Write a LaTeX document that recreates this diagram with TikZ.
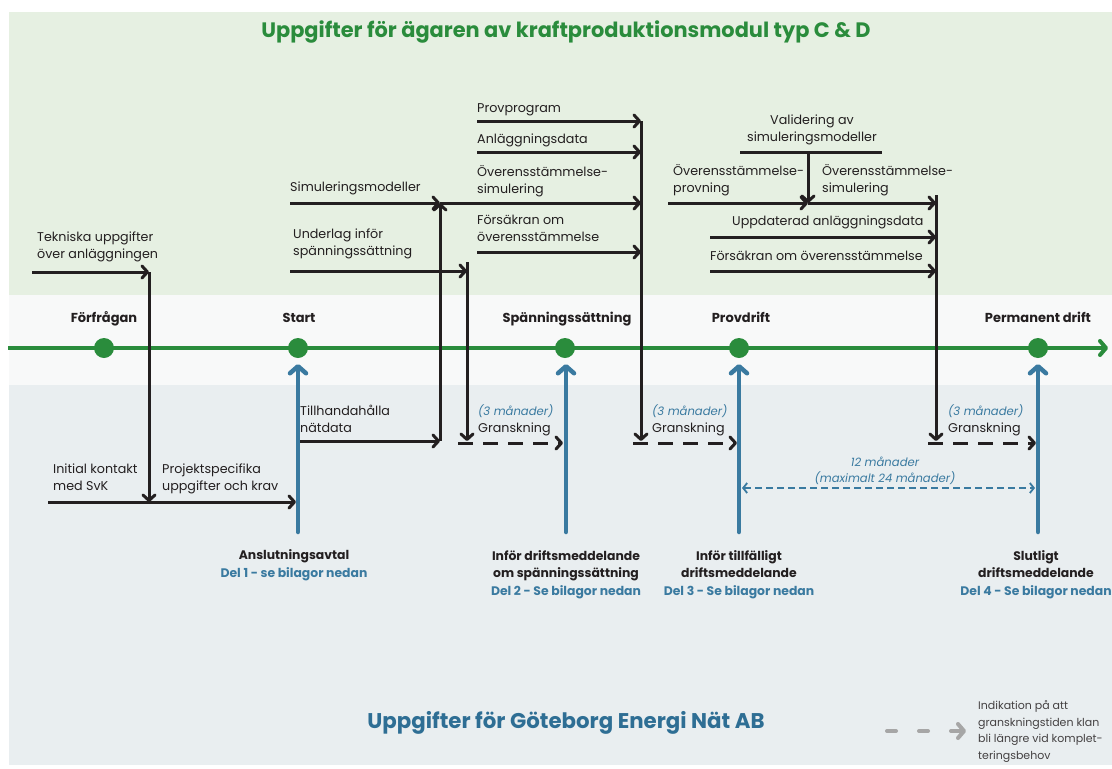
\documentclass[tikz,border=0pt]{standalone}
\usepackage{fontspec}
\setmainfont{Poppins}
\usetikzlibrary{arrows.meta}
\definecolor{topbg}{HTML}{E6F0E2}
\definecolor{midbg}{HTML}{F8F9F9}
\definecolor{botbg}{HTML}{E9EEF0}
\definecolor{ink}{HTML}{231F20}
\definecolor{grn}{HTML}{2A8C3C}
\definecolor{blu}{HTML}{3A7AA0}
\definecolor{dblu}{HTML}{2E6E94}
\definecolor{gry}{HTML}{A6A6A6}
\begin{document}
\begin{tikzpicture}[x=1pt,y=-1pt,
  chev/.tip={Straight Barb[length=5.5pt,width=12pt,line cap=round,line join=round]},
  bchev/.tip={Straight Barb[length=7pt,width=16pt,line cap=round,line join=round]},
  blk/.style={draw=ink,line width=3pt,-chev},
  blkplain/.style={draw=ink,line width=3pt},
  dsh/.style={draw=ink,line width=3pt,dash pattern=on 15pt off 10pt,-chev},
  bluarr/.style={draw=blu,line width=4.5pt,line cap=round,-bchev},
  lbl/.style={font=\fontsize{12.7}{17}\selectfont,text=ink,inner sep=0pt,anchor=base west,align=left},
  ms/.style={font=\bfseries\fontsize{13}{16}\selectfont,text=ink,inner sep=0pt,anchor=base},
  mo/.style={font=\itshape\fontsize{11.6}{16}\selectfont,text=blu,inner sep=0pt,anchor=base west},
  dl/.style={font=\bfseries\fontsize{12.4}{17.5}\selectfont,text=ink,inner sep=0pt,anchor=base,align=center},
  dot/.style={circle,fill=grn,minimum size=20pt,inner sep=0pt}
]
\useasboundingbox (0,0) rectangle (1112,769);
\fill[white] (0,0) rectangle (1112,769);
\fill[topbg] (9,12) rectangle (1112,295);
\fill[midbg] (9,295) rectangle (1112,385);
\fill[botbg] (9,385) rectangle (1112,765);

% titles
\node[font=\bfseries\fontsize{20.9}{24}\selectfont,text=grn,anchor=base,inner sep=0pt] (ttop) at (566,37) {Uppgifter för ägaren av kraftproduktionsmodul typ C \& D};
\node[font=\bfseries\fontsize{21.3}{24}\selectfont,text=dblu,anchor=base,inner sep=0pt] (tbot) at (566,728) {Uppgifter för Göteborg Energi Nät AB};

% timeline
\coordinate (tl0) at (8,348);
\coordinate (tl1) at (1108,348);
\draw[draw=grn,line width=4pt,-{Straight Barb[length=6pt,width=14pt,line cap=round,line join=round]}] (tl0) -- (tl1);
\node[dot] (m1) at (104,348) {};
\node[dot] (m2) at (298,348) {};
\node[dot] (m3) at (565,348) {};
\node[dot] (m4) at (739,348) {};
\node[dot] (m5) at (1038,348) {};
\node[ms] (n1) at (104,322) {Förfrågan};
\node[ms] (n2) at (299,322) {Start};
\node[ms] (n3) at (567,322) {Spänningssättning};
\node[ms] (n4) at (741,322) {Provdrift};
\node[ms] (n5) at (1038,322) {Permanent drift};

% blue upward arrows
\foreach \i/\x in {1/298,2/566,3/739,4/1038}{
  \coordinate (bs\i) at (\x,532);
  \coordinate (be\i) at (\x,364);
}
\draw[bluarr] (bs1) -- (be1);
\draw[bluarr] (bs2) -- (be2);
\draw[bluarr] (bs3) -- (be3);
\draw[bluarr] (bs4) -- (be4);

% bottom milestone labels (base = last line)
\node[dl] (d1) at (294,577) {Anslutningsavtal\\\textcolor{blu}{Del 1 - se bilagor nedan}};
\node[dl] (d2) at (566,595) {Inför driftsmeddelande\\om spänningssättning\\\textcolor{blu}{Del 2 - Se bilagor nedan}};
\node[dl] (d3) at (739,595) {Inför tillfälligt\\driftsmeddelande\\\textcolor{blu}{Del 3 - Se bilagor nedan}};
\node[dl] (d4) at (1036,595) {Slutligt\\driftsmeddelande\\\textcolor{blu}{Del 4 - Se bilagor nedan}};

% ---- group A (Förfrågan)
\coordinate (a1) at (32,272);
\coordinate (a2) at (149,272);
\coordinate (a3) at (149,502);
\coordinate (a4) at (48,502);
\coordinate (a5) at (296,502);
\draw[blk] (a1) -- (a2);
\draw[blk] (a2) -- (a3);
\draw[blk] (a4) -- (a5);
\node[lbl] (la1) at (37,258) {Tekniska uppgifter\\över anläggningen};
\node[lbl] (la2) at (53,490) {Initial kontakt\\med SvK};
\node[lbl] (la3) at (162,490) {Projektspecifika\\uppgifter och krav};

% ---- group B (Start -> Spänningssättning)
\coordinate (s0) at (290,203);
\coordinate (s1) at (440,203);
\coordinate (s2) at (641,203);
\coordinate (t0) at (300,441);
\coordinate (t1) at (440,441);
\draw[blk] (s0) -- (s1);
\draw[blk] (s1) -- (s2);
\draw[blk] (t0) -- (t1);
\draw[blk] (t1) -- (s1);
\node[lbl] (lb1) at (290,191) {Simuleringsmodeller};
\node[lbl] (lb2) at (300,432) {Tillhandahålla\\nätdata};

\coordinate (u0) at (290,271);
\coordinate (u1) at (467,271);
\coordinate (u2) at (467,262);
\coordinate (u3) at (467,441);
\draw[blk] (u0) -- (u1);
\draw[blk] (u2) -- (u3);
\node[lbl] (lb3) at (293,255) {Underlag inför\\spänningssättning};
\coordinate (g1a) at (458,443);
\coordinate (g1b) at (563,443);
\draw[dsh] (g1a) -- (g1b);
\node[mo] (mo1) at (478,415) {(3 månader)};
\node[lbl] (gr1) at (478,432) {Granskning};

% right column at 641
\coordinate (r0) at (641,121);
\coordinate (r1) at (641,441);
\draw[blk] (r0) -- (r1);
\coordinate (p0) at (477,121);
\coordinate (q0) at (477,152);
\coordinate (q1) at (641,152);
\coordinate (f0) at (477,252);
\coordinate (f1) at (641,252);
\draw[blk] (p0) -- (r0);
\draw[blk] (q0) -- (q1);
\draw[blk] (f0) -- (f1);
\node[lbl] (lc1) at (477,112) {Provprogram};
\node[lbl] (lc2) at (477,143) {Anläggningsdata};
\node[lbl] (lc3) at (477,193) {Överensstämmelse-\\simulering};
\node[lbl] (lc4) at (477,241) {Försäkran om\\överensstämmelse};
\coordinate (g2a) at (633,443);
\coordinate (g2b) at (737,443);
\draw[dsh] (g2a) -- (g2b);
\node[mo] (mo2) at (652,415) {(3 månader)};
\node[lbl] (gr2) at (652,432) {Granskning};

% ---- group C (Provdrift)
\coordinate (c0) at (936,195);
\coordinate (c1) at (936,441);
\draw[blk] (c0) -- (c1);
\coordinate (o0) at (668,203);
\coordinate (o1) at (808,203);
\coordinate (o2) at (936,203);
\draw[blk] (o0) -- (o1);
\draw[blk] (o1) -- (o2);
\coordinate (v0) at (740,152);
\coordinate (v1) at (882,152);
\coordinate (vm) at (808,152);
\draw[blkplain] (v0) -- (v1);
\draw[blk] (vm) -- (o1);
\node[lbl,anchor=base,align=center] (ld1) at (812,141) {Validering av\\simuleringsmodeller};
\node[lbl] (ld2) at (673,192) {Överensstämmelse-\\provning};
\node[lbl] (ld3) at (822,192) {Överensstämmelse-\\simulering};
\coordinate (w0) at (710,237);
\coordinate (w1) at (936,237);
\coordinate (x0) at (710,271);
\coordinate (x1) at (936,271);
\draw[blk] (w0) -- (w1);
\draw[blk] (x0) -- (x1);
\node[lbl] (ld4) at (732,225) {Uppdaterad anläggningsdata};
\node[lbl] (ld5) at (710,260) {Försäkran om överensstämmelse};
\coordinate (g3a) at (928,443);
\coordinate (g3b) at (1036,443);
\draw[dsh] (g3a) -- (g3b);
\node[mo] (mo3) at (948,415) {(3 månader)};
\node[lbl] (gr3) at (948,432) {Granskning};

% 12 months
\coordinate (y0) at (742,488);
\coordinate (y1) at (1035,488);
\draw[draw=blu,line width=1.8pt,dash pattern=on 7pt off 4pt,{Straight Barb[length=4pt,width=10pt]}-{Straight Barb[length=4pt,width=10pt]}] (y0) -- (y1);
\node[mo,anchor=base,align=center] (mo4) at (885,482) {12 månader\\(maximalt 24 månader)};

% legend
\coordinate (lg0) at (887,731);
\coordinate (lg1) at (966,731);
\draw[draw=gry,line width=4pt,line cap=round,dash pattern=on 9pt off 23pt,-{Straight Barb[length=6pt,width=14pt,line cap=round,line join=round]}] (lg0) -- (lg1);
\node[font=\fontsize{11}{16.5}\selectfont,text=ink!85,inner sep=0pt,anchor=base west,align=left] (lgt) at (978,759) {Indikation på att\\granskningstiden klan\\bli längre vid komplet-\\teringsbehov};
\end{tikzpicture}
\end{document}
